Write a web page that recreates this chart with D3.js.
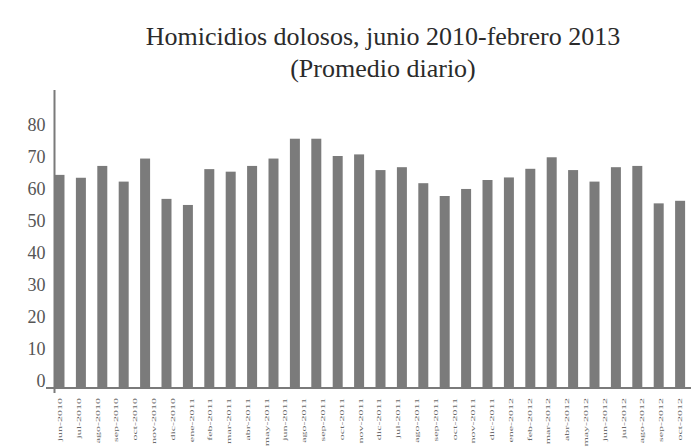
<!DOCTYPE html>
<html>
<head>
<meta charset="utf-8">
<script src="https://cdn.jsdelivr.net/npm/d3@7"></script>
<style>
  html, body { margin: 0; padding: 0; background: #ffffff; }
  svg { display: block; }
  .serif { font-family: "Liberation Serif", "Times New Roman", "DejaVu Serif", serif; }
</style>
</head>
<body>
<svg id="chart" width="691" height="448"></svg>
<script>
// ---- data ----
const titleLines = ["Homicidios dolosos, junio 2010-febrero 2013", "(Promedio diario)"];
const barValues = [65.1, 64.2, 67.9, 63.0, 70.2, 57.6, 55.7, 66.9, 66.1, 67.9,
                   70.2, 76.4, 76.4, 71.0, 71.5, 66.6, 67.5, 62.5, 58.5, 60.7,
                   63.5, 64.3, 67.0, 70.6, 66.6, 63.0, 67.5, 67.9, 56.2, 57.0];
const tickLabels = [
  "jun-2010","jul-2010","ago-2010","sep-2010","oct-2010","nov-2010","dic-2010",
  "ene-2011","feb-2011","mar-2011","abr-2011","may-2011","jun-2011","ago-2011",
  "sep-2011","oct-2011","nov-2011","dic-2011","jul-2011","ago-2011","sep-2011",
  "oct-2011","nov-2011","dic-2011",
  "ene-2012","feb-2012","mar-2012","abr-2012","may-2012","jun-2012","jul-2012",
  "ago-2012","sep-2012","oct-2012"];
const yTicks = [0, 10, 20, 30, 40, 50, 60, 70, 80];

// ---- drawing ----
const svg = d3.select("#chart");
const axisColor = "#7a7a7a";
const barColor = "#7b7b7b";

const y = d3.scaleLinear().domain([-1.5, 92.5]).range([388, 87.2]);
const xBars = d3.scaleBand()
  .domain(d3.range(barValues.length))
  .range([54.5, 685.1])
  .paddingInner(0.533)
  .paddingOuter(0);
const xLabels = d3.scalePoint()
  .domain(d3.range(tickLabels.length))
  .range([60, 680]);

// title
svg.append("g").selectAll("text")
  .data(titleLines)
  .join("text")
  .attr("class", "serif")
  .attr("x", 383)
  .attr("y", (d, i) => i === 0 ? 45 : 77)
  .attr("text-anchor", "middle")
  .style("font-size", "26px")
  .attr("fill", "#2b2b2b")
  .text(d => d);

// bars
svg.append("g").selectAll("rect")
  .data(barValues)
  .join("rect")
  .attr("x", (d, i) => xBars(i))
  .attr("width", xBars.bandwidth())
  .attr("y", d => y(d))
  .attr("height", d => y.range()[0] - y(d))
  .attr("fill", barColor);

// y axis
const yAxis = d3.axisLeft(y).tickValues(yTicks).tickSize(0).tickPadding(9);
const gy = svg.append("g").attr("transform", "translate(54.5,0)").call(yAxis);
gy.attr("font-family", null).attr("font-size", null);
gy.select(".domain").remove();
gy.selectAll("text")
  .attr("class", "serif")
  .style("font-size", "18px")
  .attr("fill", "#555")
  .attr("dy", "0.2em");
svg.append("line")
  .attr("x1", 54.5).attr("x2", 54.5)
  .attr("y1", 90).attr("y2", 393)
  .attr("stroke", axisColor).attr("stroke-width", 2);

// x axis line
svg.append("line")
  .attr("x1", 46).attr("x2", 691)
  .attr("y1", y.range()[0]).attr("y2", y.range()[0])
  .attr("stroke", axisColor).attr("stroke-width", 2);

// x labels (rotated, horizontally condensed)
svg.append("g").selectAll("text")
  .data(tickLabels)
  .join("text")
  .attr("class", "serif")
  .attr("transform", (d, i) => `translate(${xLabels(i) + 2},398) scale(0.55,1) rotate(-90)`)
  .attr("text-anchor", "end")
  .style("font-size", "12px")
  .attr("fill", "#6a6a6a")
  .text(d => d);
</script>
</body>
</html>
